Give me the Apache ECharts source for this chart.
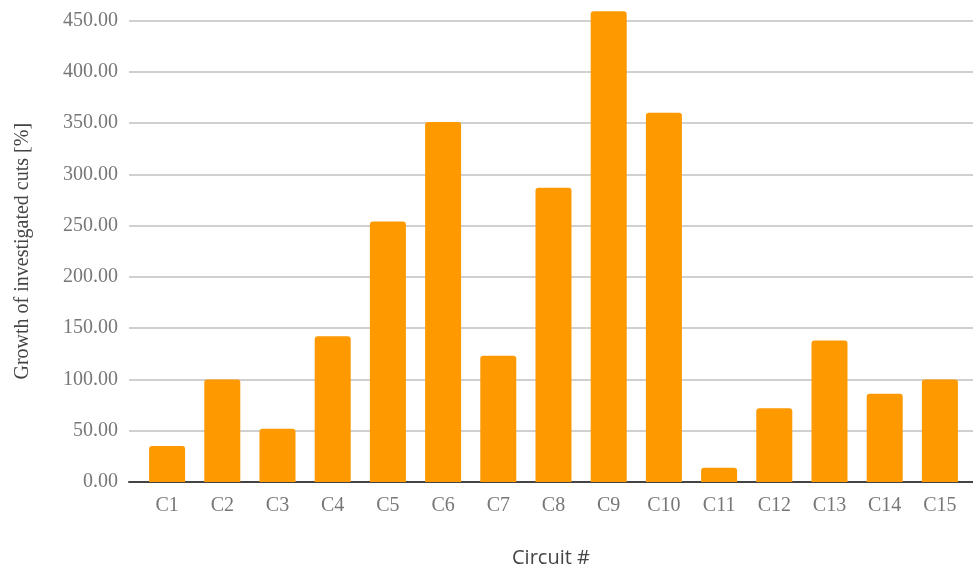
<!DOCTYPE html>
<html>
<head>
<meta charset="utf-8">
<script src="https://cdn.jsdelivr.net/npm/echarts@6/dist/echarts.min.js"></script>
<style>
html,body{margin:0;padding:0;background:#fff;}
#chart{width:973px;height:574px;}
</style>
</head>
<body>
<div id="chart"></div>
<script>
const categories = ['C1','C2','C3','C4','C5','C6','C7','C8','C9','C10','C11','C12','C13','C14','C15'];
const growth = [35, 100, 52, 142, 254, 351, 123, 287, 459, 360, 14, 72, 138, 86, 100];
const yMin = 0, yMax = 450, yStep = 50;

const chart = echarts.init(document.getElementById('chart'));
const serif = '"Liberation Serif", "Times New Roman", serif';
chart.setOption({
  animation: false,
  grid: [
    {left: 129, right: 0, top: 20.5, bottom: 92},
    {left: 139.5, right: 5.5, top: 20.5, bottom: 92}
  ],
  xAxis: [
    {
      type: 'value', gridIndex: 0, min: 0, max: 1,
      axisLine: {show: true, onZero: false, lineStyle: {color: '#444', width: 2}},
      axisTick: {show: false}, axisLabel: {show: false}, splitLine: {show: false},
      name: 'Circuit #', nameLocation: 'middle', nameGap: 66,
      nameTextStyle: {fontFamily: '"Open Sans", "Noto Sans", sans-serif', fontSize: 20, color: '#444'}
    },
    {
      type: 'category', gridIndex: 1, data: categories,
      axisLine: {show: false}, axisTick: {show: false},
      axisLabel: {fontFamily: serif, fontSize: 20, color: '#777', margin: 14}
    }
  ],
  yAxis: [
    {
      type: 'value', gridIndex: 0, min: yMin, max: yMax, interval: yStep,
      axisLine: {show: false}, axisTick: {show: false},
      axisLabel: {fontFamily: serif, fontSize: 20, color: '#777', margin: 11,
        formatter: v => v.toFixed(2)},
      splitLine: {lineStyle: {color: '#d0d0d0', width: 2}},
      name: 'Growth of investigated cuts [%]', nameLocation: 'middle', nameGap: 96,
      nameTextStyle: {fontFamily: serif, fontSize: 20, color: '#444'}
    },
    {
      type: 'value', gridIndex: 1, min: yMin, max: yMax, interval: yStep,
      show: false, splitLine: {show: false}
    }
  ],
  series: [{
    type: 'bar', xAxisIndex: 1, yAxisIndex: 1, data: growth,
    barWidth: 36, clip: false, z: 3,
    itemStyle: {color: '#ff9900', borderRadius: [3, 3, 0, 0]}
  }]
});
</script>
</body>
</html>
